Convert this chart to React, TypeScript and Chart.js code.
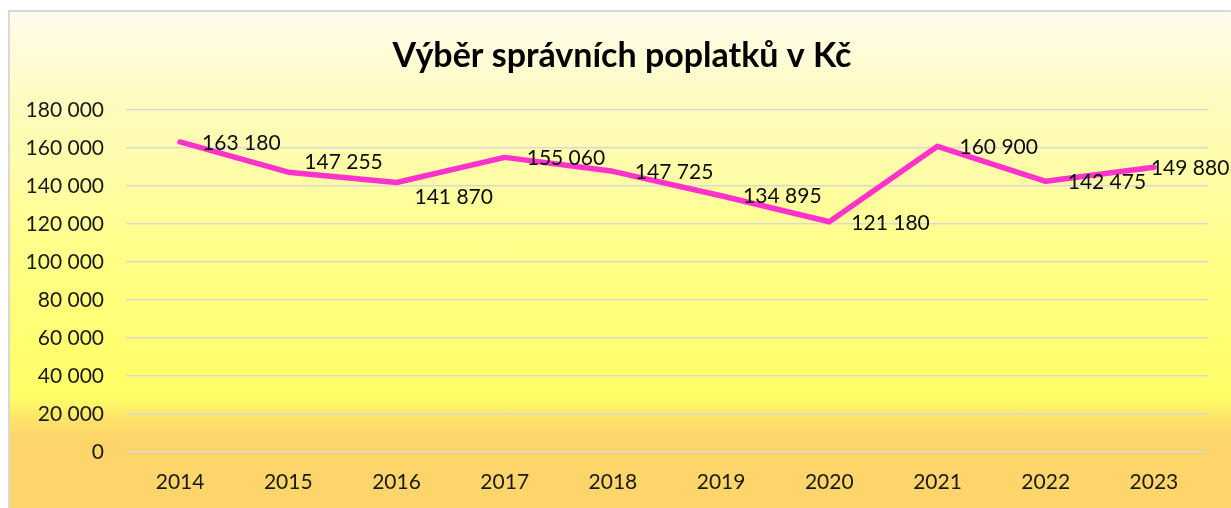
import React, { useEffect, useRef } from "react";
import { Chart, registerables } from "chart.js";

Chart.register(...registerables);

const years = ["2014", "2015", "2016", "2017", "2018", "2019", "2020", "2021", "2022", "2023"];
const fees = [163180, 147255, 141870, 155060, 147725, 134895, 121180, 160900, 142475, 149880];
const yTicks = [0, 20000, 40000, 60000, 80000, 100000, 120000, 140000, 160000, 180000];
const titleText = "Výběr správních poplatků v Kč";
// label placement offsets [dx to text left, dy to text centre] relative to point
const labelOffsets: [number, number][] = [
  [22, 1], [16, -10], [18, 15], [22, 1], [22, 1], [22, 1], [22, 1], [22, 1], [22, 1], [-3, 1],
];

const fmt = (v: number) => String(v).replace(/\B(?=(\d{3})+(?!\d))/g, " ");

const FONT = "Lato, 'Open Sans', sans-serif";

export default function App() {
  const ref = useRef<HTMLCanvasElement>(null);

  useEffect(() => {
    if (!ref.current) return;
    const titlePlugin = {
      id: "customTitle",
      afterDraw(chart: any) {
        const ctx = chart.ctx;
        ctx.save();
        ctx.font = `bold 34px ${FONT}`;
        ctx.fillStyle = "#000000";
        ctx.textAlign = "center";
        ctx.textBaseline = "alphabetic";
        ctx.fillText(titleText, 612, 55);
        ctx.restore();
      },
    };
    const labelPlugin = {
      id: "valueLabels",
      afterDatasetsDraw(chart: any) {
        const ctx = chart.ctx;
        const meta = chart.getDatasetMeta(0);
        ctx.save();
        ctx.font = `21px ${FONT}`;
        ctx.fillStyle = "#0d0d0d";
        ctx.textAlign = "left";
        ctx.textBaseline = "middle";
        meta.data.forEach((pt: any, i: number) => {
          const [dx, dy] = labelOffsets[i];
          ctx.fillText(fmt(fees[i]), pt.x + dx, pt.y + dy);
        });
        ctx.restore();
      },
    };
    const chart = new Chart(ref.current, {
      type: "line",
      data: {
        labels: years,
        datasets: [
          {
            data: fees,
            borderColor: "#ff33cc",
            backgroundColor: "#ff33cc",
            borderWidth: 5.5,
            pointRadius: 0,
            tension: 0,
            borderCapStyle: "round",
            borderJoinStyle: "round",
          },
        ],
      },
      options: {
        animation: false,
        responsive: false,
        devicePixelRatio: 1,
        layout: { padding: { left: 0, right: 30, top: 98, bottom: 0 } },
        plugins: { legend: { display: false }, title: { display: false }, tooltip: { enabled: false } },
        scales: {
          x: {
            offset: true,
            grid: { display: false, drawTicks: false },
            border: { display: false },
            ticks: { font: { family: FONT, size: 21 }, color: "#1a1a1a", padding: 18, maxRotation: 0 },
            afterFit: (s: any) => { s.height = 56; },
          },
          y: {
            min: 0,
            max: 180000,
            afterBuildTicks: (s: any) => { s.ticks = yTicks.map((v) => ({ value: v })); },
            grid: { color: "#d9d9d9", lineWidth: 1.5, drawTicks: false },
            border: { display: false },
            ticks: { font: { family: FONT, size: 21 }, color: "#1a1a1a", padding: 22, callback: (v: any) => fmt(Number(v)) },
            afterFit: (s: any) => { s.width = 116; },
          },
        },
      },
      plugins: [titlePlugin, labelPlugin],
    } as any);
    return () => chart.destroy();
  }, []);

  return (
    <div style={{ position: "fixed", left: 0, top: 0, width: 1231, height: 508, overflow: "hidden", background: "#ffffff" }}>
      <div
        style={{
          position: "absolute",
          left: 8,
          top: 10,
          width: 1240,
          height: 510,
          boxSizing: "border-box",
          border: "2px solid #d9d9d9",
          background:
            "linear-gradient(to bottom, #fffcec 0px, #fffbc0 90px, #ffff86 250px, #ffff6a 360px, #ffff66 385px, #fee26a 408px, #fdd56a 425px, #fdd56a 100%)",
        }}
      >
        <canvas ref={ref} width={1228} height={496} style={{ position: "absolute", left: 0, top: 0, width: 1228, height: 496 }} />
      </div>
    </div>
  );
}
